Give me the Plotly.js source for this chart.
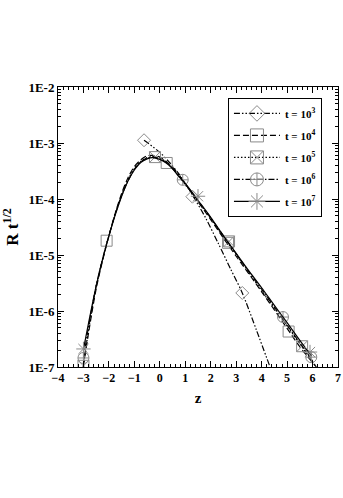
<!DOCTYPE html>
<html>
<head>
<meta charset="utf-8">
<script src="https://cdn.plot.ly/plotly-3.0.1.min.js"></script>
<style>
  html, body { margin: 0; padding: 0; background: #fff; }
  #chart { width: 343px; height: 498px; }
</style>
</head>
<body>
<div id="chart"></div>
<script>
// Curves (z, R t^1/2)
const z3 = [-0.62, 0, 0.4, 0.75, 1.05, 1.32, 1.8, 2.3, 2.8, 3.24, 3.8, 4.33];
const r3 = [1.12e-3, 6.8e-4, 4.4e-4, 2.8e-4, 1.74e-4, 1.1e-4, 4.6e-5, 1.6e-5, 5.4e-6, 2.1e-6, 4.5e-7, 1.0e-7];

const zA = [-3, -2.75, -2.5, -2.25, -2, -1.75, -1.5, -1.25, -1, -0.75, -0.5, -0.3, 0, 0.25, 0.5, 0.75, 1, 1.25, 1.5, 2, 2.5, 3, 3.5, 4, 4.5, 5, 5.5];

const z4 = zA.concat([6.15]);
const r4 = [1.05e-7, 5.6e-7, 2.5e-6, 7.9e-6, 2.2e-5, 5.6e-5, 1.26e-4, 2.4e-4, 3.8e-4, 5.0e-4, 5.9e-4, 6.0e-4, 5.6e-4, 4.7e-4, 3.7e-4, 2.7e-4, 1.86e-4, 1.3e-4, 8.9e-5, 4.3e-5, 2.0e-5, 9.5e-6, 4.6e-6, 2.2e-6, 1.05e-6, 4.9e-7, 2.3e-7, 1.0e-7];

const z5 = zA.concat([6.1]);
const r5 = [1.05e-7, 6.3e-7, 2.8e-6, 8.5e-6, 2.2e-5, 5.4e-5, 1.17e-4, 2.2e-4, 3.5e-4, 4.7e-4, 5.5e-4, 5.75e-4, 5.4e-4, 4.6e-4, 3.5e-4, 2.6e-4, 1.8e-4, 1.3e-4, 9.1e-5, 4.5e-5, 2.1e-5, 1.02e-5, 4.9e-6, 2.3e-6, 1.12e-6, 5.4e-7, 2.6e-7, 1.07e-7];

const z6 = zA.concat([6.05]);
const r6 = [1.45e-7, 7.1e-7, 2.8e-6, 8.5e-6, 2.2e-5, 5.4e-5, 1.15e-4, 2.1e-4, 3.4e-4, 4.6e-4, 5.4e-4, 5.6e-4, 5.2e-4, 4.5e-4, 3.5e-4, 2.6e-4, 1.86e-4, 1.32e-4, 9.3e-5, 4.6e-5, 2.2e-5, 1.05e-5, 5.0e-6, 2.45e-6, 1.17e-6, 5.6e-7, 2.7e-7, 1.2e-7];

const z7 = zA.concat([5.95]);
const r7 = [2.09e-7, 7.9e-7, 2.8e-6, 8.3e-6, 2.2e-5, 5.2e-5, 1.12e-4, 2.1e-4, 3.3e-4, 4.5e-4, 5.2e-4, 5.5e-4, 5.1e-4, 4.4e-4, 3.5e-4, 2.5e-4, 1.9e-4, 1.35e-4, 9.5e-5, 4.7e-5, 2.2e-5, 1.07e-5, 5.2e-6, 2.6e-6, 1.26e-6, 6.2e-7, 3.0e-7, 1.6e-7];

// Symbols placed along each curve
const m3z = [-0.62, 1.28, 3.24];
const m3r = [1.12e-3, 1.1e-4, 2.1e-6];
const m4z = [-2.09, 0.27, 2.68, 5.06];
const m4r = [1.8e-5, 4.4e-4, 1.65e-5, 4.3e-7];
const m5z = [-3.0, -0.19, 2.72, 5.59];
const m5r = [1.05e-7, 5.6e-4, 1.75e-5, 2.35e-7];
const m6z = [-3.0, 0.9, 4.84, 5.95];
const m6r = [1.45e-7, 2.2e-4, 7.8e-7, 1.5e-7];
const m7z = [-3.0, 1.5, 5.9];
const m7r = [2.1e-7, 1.12e-4, 1.85e-7];

const legendNames = ['t = 10<sup>3</sup>', 't = 10<sup>4</sup>', 't = 10<sup>5</sup>', 't = 10<sup>6</sup>', 't = 10<sup>7</sup>'];

const yTickVals = [1e-7, 1e-6, 1e-5, 1e-4, 1e-3, 1e-2];
const yTickText = ['1E-7', '1E-6', '1E-5', '1E-4', '1E-3', '1E-2'];

const FONT = 'Liberation Serif, Times New Roman, serif';
const MARK = '#8a8a8a';

const series = [
    { z: z3, r: r3, mz: m3z, mr: m3r, dash: '6px,2px,1.5px,2px,1.5px,2px', sym: 'diamond-open', size: 10 },
    { z: z4, r: r4, mz: m4z, mr: m4r, dash: '6px,3px', sym: 'square-open', size: 11 },
    { z: z5, r: r5, mz: m5z, mr: m5r, dash: '1.5px,2px', sym: 'square-x-open', size: 11 },
    { z: z6, r: r6, mz: m6z, mr: m6r, dash: '6px,2px,1.5px,2px', sym: 'circle-cross-open', size: 11 },
    { z: z7, r: r7, mz: m7z, mr: m7r, dash: 'solid', sym: 'asterisk-open', size: 12 }
];

// minor ticks on the log axis (2..9 of each decade)
const yMinor = [];
for (let e = -7; e < -2; e++) {
    for (let k = 2; k < 10; k++) yMinor.push(k * Math.pow(10, e));
}

const traces = [];
series.forEach((s, i) => {
    // curve
    traces.push({
        x: s.z, y: s.r, mode: 'lines', type: 'scatter',
        line: { color: '#000', width: 1.2, dash: s.dash, shape: 'spline', smoothing: 0.8 },
        showlegend: false, hoverinfo: 'skip'
    });
    // symbols
    traces.push({
        x: s.mz, y: s.mr, mode: 'markers', type: 'scatter',
        marker: { symbol: s.sym, size: s.size, color: MARK, line: { color: MARK, width: 1 } },
        showlegend: false
    });
    // legend entry
    traces.push({
        x: [null], y: [null], mode: 'lines+markers', type: 'scatter',
        name: legendNames[i], legendgroup: 'g' + i,
        line: { color: '#000', width: 1.2, dash: s.dash },
        marker: { symbol: s.sym, size: s.size + 2, color: MARK, line: { color: MARK, width: 1 } }
    });
});

const layout = {
    width: 343, height: 498,
    margin: { l: 58, r: 5, t: 87, b: 131 },
    paper_bgcolor: '#fff', plot_bgcolor: '#fff',
    font: { family: FONT, color: '#000' },
    showlegend: true,
    legend: {
        x: 0.607, y: 0.961, xanchor: 'left', yanchor: 'top',
        bordercolor: '#000', borderwidth: 1, bgcolor: '#fff',
        font: { family: FONT, size: 11, weight: 'bold' },
        itemwidth: 46, tracegroupgap: 3, traceorder: 'grouped'
    },
    xaxis: {
        range: [-4, 7], dtick: 1, tick0: 0,
        ticks: 'inside', ticklen: 6, tickcolor: '#000',
        showline: true, linecolor: '#000', linewidth: 1, mirror: 'ticks',
        showgrid: false, zeroline: false,
        tickfont: { family: FONT, size: 12, weight: 'bold' },
        minor: { dtick: 0.2, ticks: 'inside', ticklen: 3, tickcolor: '#000', showgrid: false },
        title: { text: 'z', font: { family: FONT, size: 15, weight: 'bold' }, standoff: 8 }
    },
    yaxis: {
        type: 'log', range: [-7, -2],
        tickmode: 'array', tickvals: yTickVals, ticktext: yTickText,
        ticks: 'inside', ticklen: 6, tickcolor: '#000',
        showline: true, linecolor: '#000', linewidth: 1, mirror: 'ticks',
        showgrid: false, zeroline: false,
        tickfont: { family: FONT, size: 13, weight: 'bold' },
        minor: { tickmode: 'array', tickvals: yMinor, ticks: 'inside', ticklen: 3, tickcolor: '#000', showgrid: false },
        title: { text: 'R t<sup>1/2</sup>', font: { family: FONT, size: 17, weight: 'bold' }, standoff: 6 }
    }
};

Plotly.newPlot('chart', traces, layout, { staticPlot: true, displayModeBar: false });
</script>
</body>
</html>
